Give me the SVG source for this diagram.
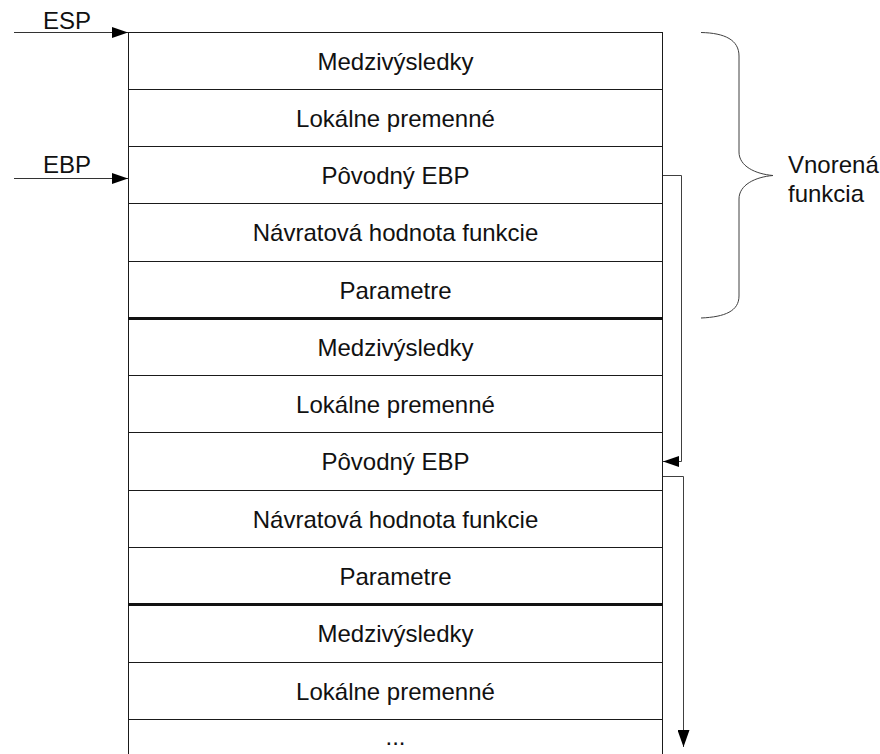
<svg xmlns="http://www.w3.org/2000/svg" width="880" height="754" viewBox="0 0 880 754">
<defs>
<style>
.row{fill:#fff;stroke:#1a1a1a;stroke-width:1}
.t{font-family:"Liberation Sans",Arial,sans-serif;font-size:24px;fill:#111}
.c{text-anchor:middle}
.thick{stroke:#111;stroke-width:3}
.con{fill:none;stroke:#404040;stroke-width:1}
</style>
<marker id="ah" viewBox="0 0 16 11" refX="16" refY="5.5" markerWidth="16" markerHeight="11" markerUnits="userSpaceOnUse" orient="auto">
<path d="M0,0 L16,5.5 L0,11 Z" fill="#000"/>
</marker>
<marker id="ahd" viewBox="0 0 17 12" refX="17" refY="6" markerWidth="17" markerHeight="12" markerUnits="userSpaceOnUse" orient="auto">
<path d="M0,0 L17,6 L0,12 Z" fill="#000"/>
</marker>
</defs>
<rect width="880" height="754" fill="#fff"/>
<g id="frame1">
<g id="r1"><rect class="row" x="128.5" y="32.5" width="534" height="57"/><text class="t c" x="395.5" y="70">Medzivýsledky</text></g>
<g id="r2"><rect class="row" x="128.5" y="89.5" width="534" height="57"/><text class="t c" x="395.5" y="127">Lokálne premenné</text></g>
<g id="r3"><rect class="row" x="128.5" y="146.5" width="534" height="57"/><text class="t c" x="395.5" y="184">Pôvodný EBP</text></g>
<g id="r4"><rect class="row" x="128.5" y="203.5" width="534" height="58"/><text class="t c" x="395.5" y="241">Návratová hodnota funkcie</text></g>
<g id="r5"><rect class="row" x="128.5" y="261.5" width="534" height="57"/><text class="t c" x="395.5" y="299">Parametre</text></g>
</g>
<g id="frame2">
<g id="r6"><rect class="row" x="128.5" y="318.5" width="534" height="57"/><text class="t c" x="395.5" y="356">Medzivýsledky</text></g>
<g id="r7"><rect class="row" x="128.5" y="375.5" width="534" height="57"/><text class="t c" x="395.5" y="413">Lokálne premenné</text></g>
<g id="r8"><rect class="row" x="128.5" y="432.5" width="534" height="58"/><text class="t c" x="395.5" y="470">Pôvodný EBP</text></g>
<g id="r9"><rect class="row" x="128.5" y="490.5" width="534" height="57"/><text class="t c" x="395.5" y="528">Návratová hodnota funkcie</text></g>
<g id="r10"><rect class="row" x="128.5" y="547.5" width="534" height="57"/><text class="t c" x="395.5" y="585">Parametre</text></g>
</g>
<g id="frame3">
<g id="r11"><rect class="row" x="128.5" y="604.5" width="534" height="58"/><text class="t c" x="395.5" y="642">Medzivýsledky</text></g>
<g id="r12"><rect class="row" x="128.5" y="662.5" width="534" height="57"/><text class="t c" x="395.5" y="700">Lokálne premenné</text></g>
<g id="r13"><rect class="row" x="128.5" y="719.5" width="534" height="60"/><text class="t c" x="395.5" y="745">...</text></g>
</g>
<g id="separators">
<line class="thick" x1="128" y1="318.5" x2="663" y2="318.5"/>
<line class="thick" x1="128" y1="604.5" x2="663" y2="604.5"/>
</g>
<g id="connectors">
<line x1="14" y1="32.5" x2="128" y2="32.5" stroke="#333" stroke-width="1" marker-end="url(#ah)"/>
<line x1="14" y1="178.5" x2="128" y2="178.5" stroke="#333" stroke-width="1" marker-end="url(#ah)"/>
<polyline class="con" points="663,175.5 681.5,175.5 681.5,461.5 663,461.5" marker-end="url(#ah)"/>
<polyline class="con" points="663,476.5 683.5,476.5 683.5,747" marker-end="url(#ahd)"/>
<path class="con" d="M701,32.5 C725,33 739,40 739,56 L739,152 C739,166 755,174 773,175.5 C755,177 739,185 739,199 L739,296 C739,311 725,317 701,318"/>
</g>
<g id="labels">
<text class="t" x="43" y="29">ESP</text>
<text class="t" x="43" y="173">EBP</text>
<text class="t" x="788" y="173">Vnorená</text>
<text class="t" x="788" y="202">funkcia</text>
</g>
</svg>
